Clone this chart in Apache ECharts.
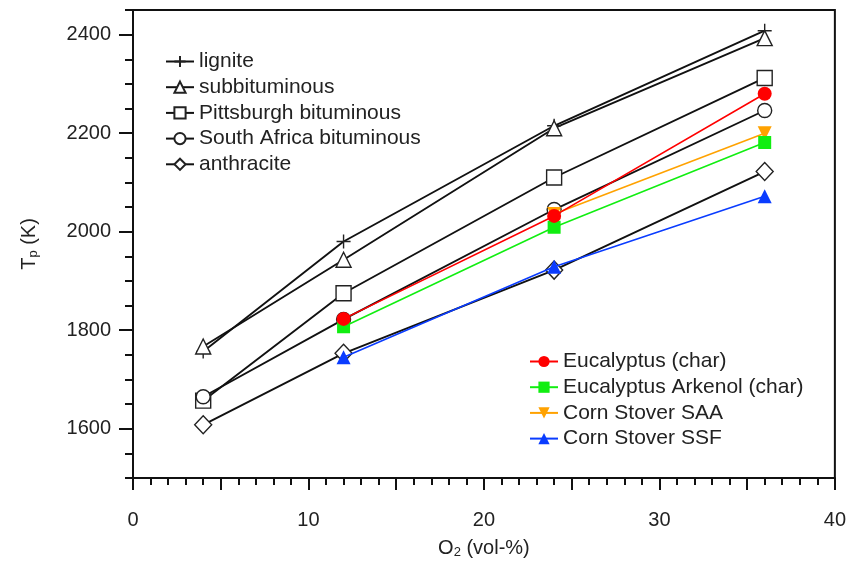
<!DOCTYPE html>
<html>
<head>
<meta charset="utf-8">
<script src="https://cdn.jsdelivr.net/npm/echarts@6/dist/echarts.min.js"></script>
<style>
  html, body { margin: 0; padding: 0; background: #fff; }
  #chart { width: 849px; height: 565px; }
</style>
</head>
<body>
<div id="chart"></div>
<script>
// O2 (vol-%) levels
const o2 = [4, 12, 24, 36]

// particle temperatures (K), coals
const lignite = [1757, 1980, 2215, 2408]
const subbituminous = [1767, 1943, 2210, 2393]
const pittsburgh = [1657, 1875, 2110, 2312]
const southAfrica = [1665, 1822, 2045, 2246]
const anthracite = [1608, 1753, 1922, 2122]

// biomass chars
const eucalyptus = [null, 1823, 2032, 2280]
const arkenol = [null, 1807, 2009, 2181]
const stoverSAA = [null, null, 2036, 2200]
const stoverSSF = [null, 1745, 1929, 2072]

const xLabels = [0, 10, 20, 30, 40]
const yLabels = [1600, 1800, 2000, 2200, 2400]

const font = 'Liberation Sans, Arial, sans-serif'
const fs = 20
const pair = vals => o2.map((x, i) => [x, vals[i]])

const crossPath = 'path://M0,5L10,5M5,0L5,10'

function coal (name, vals, symbol, size) {
  return {
    name: name,
    type: 'line',
    data: pair(vals),
    symbol: symbol,
    symbolSize: size,
    showAllSymbol: true,
    lineStyle: { color: '#111', width: 1.9 },
    itemStyle: { color: '#fff', borderColor: '#222', borderWidth: 1.4 },
    z: 2
  }
}

function bio (name, vals, color, symbol, size, rot, z) {
  return {
    name: name,
    type: 'line',
    data: pair(vals),
    symbol: symbol,
    symbolSize: size,
    symbolRotate: rot || 0,
    lineStyle: { color: color, width: 1.6 },
    itemStyle: { color: color, borderWidth: 0 },
    z: z
  }
}

const subRich = {
  a: { fontFamily: font, fontSize: fs, color: '#222' },
  s: { fontFamily: font, fontSize: 13, color: '#222', verticalAlign: 'bottom', padding: [9, 0, 0, 0] }
}

const dom = echarts.init(document.getElementById('chart'))
dom.setOption({
  animation: false,
  backgroundColor: '#fff',
  grid: {
    left: 133, right: 14, top: 10, bottom: 87,
    show: true, borderColor: '#111', borderWidth: 2, containLabel: false
  },
  legend: [
    {
      data: ['lignite', 'subbituminous', 'Pittsburgh bituminous', 'South Africa bituminous', 'anthracite'],
      orient: 'vertical', left: 160, top: 46,
      itemWidth: 28, itemHeight: 14, itemGap: 4.7,
      textStyle: { fontFamily: font, fontSize: 21, color: '#222' }
    },
    {
      data: ['Eucalyptus (char)', 'Eucalyptus Arkenol (char)', 'Corn Stover SAA', 'Corn Stover SSF'],
      orient: 'vertical', left: 524, top: 346,
      itemWidth: 28, itemHeight: 14, itemGap: 4.7,
      textStyle: { fontFamily: font, fontSize: 21, color: '#222' }
    }
  ],
  xAxis: {
    type: 'value', min: 0, max: 40, interval: 5,
    name: '{a|O}{s|2}{a| (vol-%)}', nameLocation: 'middle', nameGap: 59,
    nameTextStyle: { rich: subRich },
    axisLine: { lineStyle: { color: '#111', width: 2 } },
    axisTick: { length: 12, inside: false, lineStyle: { color: '#111', width: 2 } },
    minorTick: { show: true, splitNumber: 5, length: 7, lineStyle: { color: '#111', width: 2 } },
    axisLabel: { customValues: xLabels, margin: 32, fontFamily: font, fontSize: fs, color: '#222' },
    splitLine: { show: false }
  },
  yAxis: [
    {
      type: 'value', min: 1500, max: 2450,
      name: '{a|T}{s|p}{a| (K)}', nameLocation: 'middle', nameGap: 93, nameRotate: 90,
      nameTextStyle: { rich: subRich },
      axisLine: { lineStyle: { color: '#111', width: 2 } },
      axisTick: { customValues: yLabels, length: 14, lineStyle: { color: '#111', width: 2 } },
      axisLabel: {
        customValues: yLabels, margin: 22, fontFamily: font, fontSize: fs, color: '#222',
        formatter: v => String(v)
      },
      splitLine: { show: false }
    },
    {
      type: 'value', min: 1500, max: 2450, interval: 50, position: 'left',
      axisLine: { show: false },
      axisTick: { length: 8, lineStyle: { color: '#111', width: 2 } },
      axisLabel: { show: false },
      splitLine: { show: false }
    }
  ],
  series: [
    coal('lignite', lignite, crossPath, 14),
    coal('subbituminous', subbituminous, 'triangle', 15),
    coal('Pittsburgh bituminous', pittsburgh, 'rect', 15),
    coal('South Africa bituminous', southAfrica, 'circle', 14),
    coal('anthracite', anthracite, 'diamond', [17, 18]),
    bio('Corn Stover SAA', stoverSAA, '#ffa200', 'triangle', 14, 180, 3),
    bio('Eucalyptus (char)', eucalyptus, '#ff0000', 'circle', 14, 0, 4),
    bio('Eucalyptus Arkenol (char)', arkenol, '#11ee11', 'rect', 13, 0, 3),
    bio('Corn Stover SSF', stoverSSF, '#0a3cff', 'triangle', 14, 0, 3)
  ]
})
</script>
</body>
</html>
